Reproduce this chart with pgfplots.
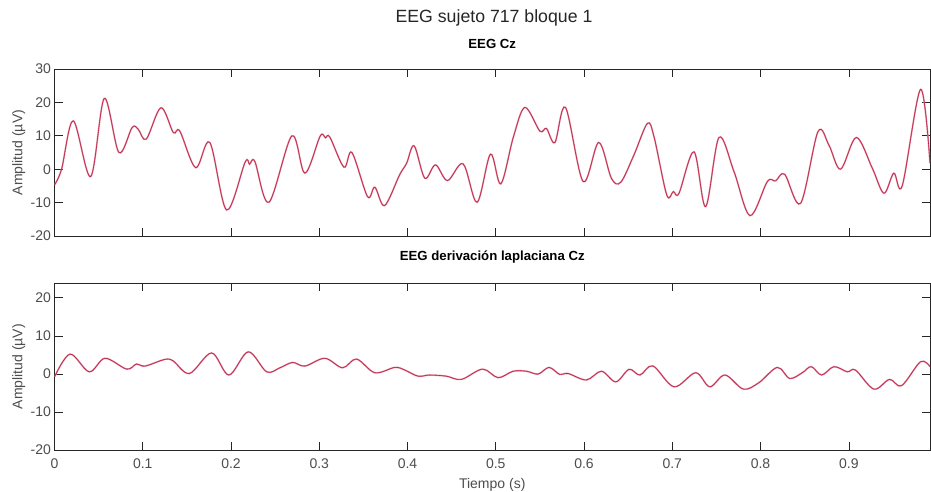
\documentclass[border=0pt]{standalone}
\usepackage{fontspec}
\setmainfont{Liberation Sans}
\usepackage{pgfplots}
\pgfplotsset{compat=1.18}
\definecolor{axgray}{RGB}{38,38,38}
\definecolor{lblgray}{RGB}{77,77,77}
\definecolor{eegpink}{RGB}{226,140,160}
\definecolor{eegred}{RGB}{185,35,70}
\pgfplotsset{
  eegaxis/.style={
    scale only axis, width=875.5pt, height=167pt,
    xmin=0, xmax=0.992,
    axis line style={axgray, line width=0.6pt},
    tick style={axgray, line width=0.6pt},
    major tick length=8pt,
    tick align=inside,
    xtick={0,0.1,...,0.9},
    xtick pos=both, ytick pos=both,
    ticklabel style={font=\fontsize{14}{16}\selectfont, text=lblgray},
    xticklabel style={yshift=-5pt},
    label style={font=\fontsize{14}{16}\selectfont, text=lblgray},
    /pgf/number format/assume math mode=true,
    ylabel={Amplitud (µV)},
    ylabel style={at={(axis description cs:0,0.5)}, anchor=center, yshift=35.7pt},
    title style={at={(0.5,1)}, anchor=base, font=\fontsize{13.2}{15}\selectfont\bfseries, text=black},
    clip=true,
  },
  pinkline/.style={eegpink, line width=1.6pt, smooth, tension=0.55},
  redline/.style={eegred, line width=0.6pt, smooth, tension=0.55},
}
\begin{document}
\begin{tikzpicture}
\useasboundingbox (0,0) rectangle (931pt,-492pt);
\node[anchor=base, font=\fontsize{17.7}{20}\selectfont, text=axgray] at (494pt,-23pt) {EEG sujeto 717 bloque 1};
% top axis
\begin{axis}[eegaxis, at={(54.5pt,-236pt)}, anchor=south west,
  ymin=-20, ymax=30, ytick={-20,-10,...,30},
  xticklabels={},
  title={EEG Cz}, title style={yshift=14pt}]
\pgfplotstableread{
t v
0 -4.7
0.008 0
0.0213 14.5
0.041 -2.2
0.0564 21.2
0.073 5
0.088 12.5
0.095 11.9
0.104 9
0.1206 18.4
0.1346 11
0.142 11.4
0.160 0.45
0.176 8
0.195 -12.2
0.216 2.1
0.221 1.5
0.227 2.3
0.243 -9.9
0.269 10
0.2837 -1.2
0.301 9.9
0.307 9.4
0.312 9.6
0.328 0.6
0.337 5
0.3547 -8.2
0.363 -5.4
0.374 -10.9
0.391 -1.7
0.399 1.8
0.4075 7
0.4196 -2.7
0.4317 1.3
0.4453 -3.4
0.463 1.6
0.4788 -9.9
0.494 4.5
0.5057 -4.4
0.52 9.7
0.533 18.5
0.550 11.4
0.5574 12.2
0.567 8
0.579 18.5
0.599 -3.7
0.6166 8
0.631 -2.7
0.6416 -3.9
0.6566 4.3
0.6718 13.7
0.6793 9.7
0.6937 -7.7
0.7012 -6.7
0.7076 -7.2
0.7246 5.2
0.7378 -11.2
0.7529 9.5
0.7699 -0.7
0.788 -13.9
0.8077 -3.7
0.817 -3.5
0.8273 -1.5
0.8454 -10.2
0.865 11.2
0.8775 7.2
0.8907 0
0.9085 9.5
0.9266 0.3
0.9398 -7.2
0.951 -1.2
0.9606 -4.9
0.9813 23.9
0.992 1.8
}\topdata
\addplot[pinkline] table[x=t,y=v] {\topdata};
\addplot[redline] table[x=t,y=v] {\topdata};
\end{axis}
% bottom axis
\begin{axis}[eegaxis, at={(54.5pt,-450pt)}, anchor=south west, height=166.7pt,
  ymin=-20, ymax=23.8, ytick={-20,-10,...,20},
  xticklabels={0,0.1,0.2,0.3,0.4,0.5,0.6,0.7,0.8,0.9},
  xlabel={Tiempo (s)},
  xlabel style={at={(axis description cs:0.5,0)}, anchor=center, yshift=-35pt},
  title={EEG derivación laplaciana Cz}, title style={yshift=17pt}]
\pgfplotstableread{
t v
0 -0.8
0.0176 5.2
0.0394 0.55
0.0572 4.1
0.0818 1.26
0.093 2.6
0.1025 2.05
0.125 3.8
0.1345 3.4
0.153 0.1
0.178 5.5
0.1976 -0.3
0.2195 5.8
0.2403 0.55
0.2554 1.6
0.2698 3
0.2837 2.05
0.3063 4.1
0.3264 1.6
0.3422 3.9
0.363 0.3
0.3856 1.7
0.397 1
0.412 -0.6
0.425 -0.3
0.444 -0.6
0.4611 -1.45
0.485 1.26
0.5026 -1.0
0.5196 0.7
0.5348 0.7
0.548 -0.05
0.5604 1.7
0.5725 -0.15
0.5819 0.1
0.6027 -1.6
0.6197 0.7
0.636 -2.1
0.651 1.2
0.6634 -0.3
0.678 2.1
0.702 -3.4
0.7265 0.3
0.7424 -3.4
0.7597 -0.3
0.7805 -4
0.7982 -2.3
0.819 1.7
0.833 -1.2
0.8473 0.3
0.8575 1.9
0.8692 -0.3
0.8831 1.9
0.8983 0.55
0.9076 1
0.9284 -4
0.9462 -1.45
0.9598 -3.1
0.9813 3.2
0.992 1.9
}\botdata
\addplot[pinkline] table[x=t,y=v] {\botdata};
\addplot[redline] table[x=t,y=v] {\botdata};
\end{axis}
\end{tikzpicture}
\end{document}
